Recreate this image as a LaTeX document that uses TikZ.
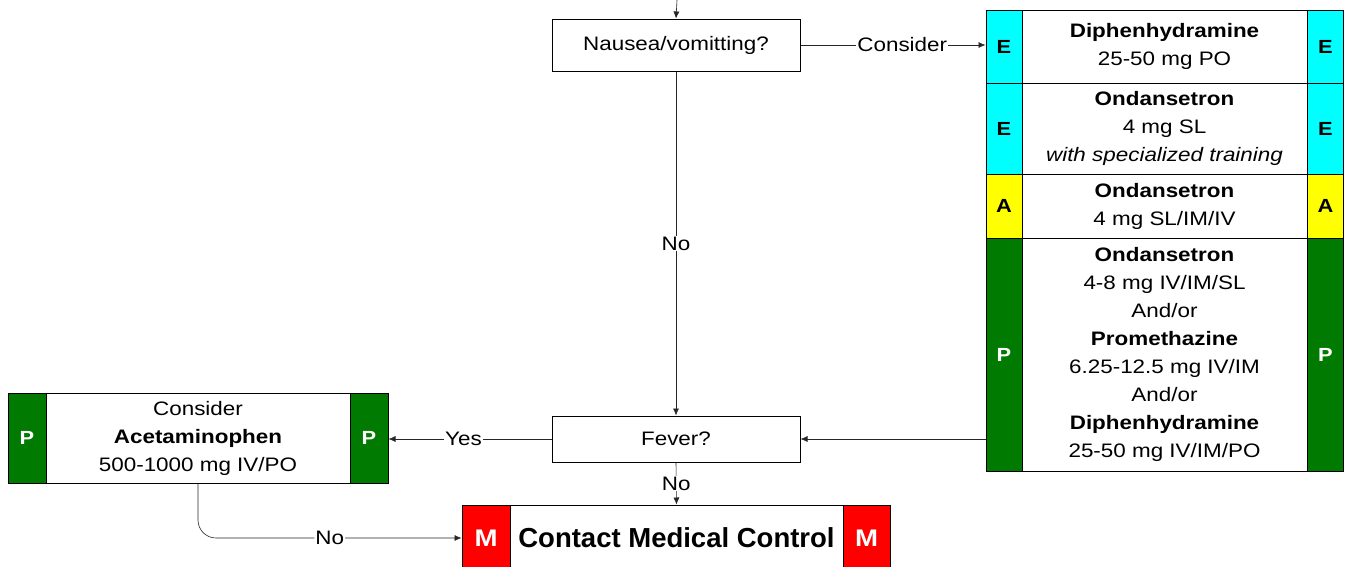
\documentclass[tikz,border=0pt]{standalone}
\usepackage{fontspec}
\setmainfont[FakeStretch=1.15]{Liberation Sans}
\newfontfamily\flatsans{Liberation Sans}
\usepackage{tikz}
\usetikzlibrary{arrows.meta}
\usetikzlibrary{positioning,calc}
\tikzset{>={Latex[length=7pt,width=6pt]}}
\definecolor{levelE}{RGB}{0,255,255}
\definecolor{levelA}{RGB}{255,255,0}
\definecolor{levelP}{RGB}{0,122,0}
\definecolor{levelM}{RGB}{255,0,0}
\tikzset{
  txt/.style={font=\fontsize{19.5}{28}\selectfont},
  question/.style={draw, line width=1pt, fill=white, txt, minimum width=248pt, inner sep=0pt},
  drug/.style={draw, line width=1pt, fill=white, txt, align=center, inner sep=0pt},
  strip/.style={draw, line width=1pt, inner sep=0pt, font=\fontsize{19}{22}\selectfont\bfseries},
  stripE/.style={strip, fill=levelE, text=black},
  stripA/.style={strip, fill=levelA, text=black},
  stripP/.style={strip, fill=levelP, text=white},
  stripM/.style={strip, fill=levelM, text=white, font=\fontsize{24}{26}\selectfont\bfseries},
  flow/.style={->, line width=0.6pt, draw=black!85},
  lbl/.style={fill=white, txt, inner sep=1pt}
}

\begin{document}
\begin{tikzpicture}[x=1pt,y=-1pt]
\useasboundingbox (0,0) rectangle (1345,566);
    %questions
    \coordinate (top) at (677,0);
    \node[question, minimum height=52pt] (nausea) at (676,45) {Nausea/vomitting?};
    \node[question, minimum height=46pt] (fever) at (676,439) {Fever?};
    %medication panel
    \node[drug, minimum width=285pt, minimum height=73pt] (diph) at (1164.5,46.5)
        {\textbf{Diphenhydramine}\\25-50 mg PO};
    \node[stripE, minimum width=36pt, minimum height=73pt] (e1l) at (1004,46.5) {E};
    \node[stripE, minimum width=36pt, minimum height=73pt] (e1r) at (1325.5,46.5) {E};
    \node[drug, minimum width=285pt, minimum height=91pt] (ondE) at (1164.5,128.5)
        {\textbf{Ondansetron}\\4 mg SL\\\textit{with specialized training}};
    \node[stripE, minimum width=36pt, minimum height=91pt] (e2l) at (1004,128.5) {E};
    \node[stripE, minimum width=36pt, minimum height=91pt] (e2r) at (1325.5,128.5) {E};
    \node[drug, minimum width=285pt, minimum height=64pt] (ondA) at (1164.5,206)
        {\textbf{Ondansetron}\\4 mg SL/IM/IV};
    \node[stripA, minimum width=36pt, minimum height=64pt] (a3l) at (1004,206) {A};
    \node[stripA, minimum width=36pt, minimum height=64pt] (a3r) at (1325.5,206) {A};
    \node[drug, minimum width=285pt, minimum height=233pt] (antiemP) at (1164.5,354.5)
        {\textbf{Ondansetron}\\4-8 mg IV/IM/SL\\And/or\\\textbf{Promethazine}\\6.25-12.5 mg IV/IM\\And/or\\\textbf{Diphenhydramine}\\25-50 mg IV/IM/PO};
    \node[stripP, minimum width=36pt, minimum height=233pt] (p4l) at (1004,354.5) {P};
    \node[stripP, minimum width=36pt, minimum height=233pt] (p4r) at (1325.5,354.5) {P};
    %acetaminophen
    \node[drug, minimum width=304pt, minimum height=90pt] (acet) at (198,438)
        {Consider\\\textbf{Acetaminophen}\\500-1000 mg IV/PO};
    \node[stripP, minimum width=38pt, minimum height=90pt] (acl) at (27,438) {P};
    \node[stripP, minimum width=38pt, minimum height=90pt] (acr) at (369,438) {P};
    %medical control
    \node[drug, minimum width=333pt, minimum height=66pt, font=\flatsans\fontsize{27.5}{30}\selectfont\bfseries] (contact) at (676.5,538)
        {Contact Medical Control};
    \node[stripM, minimum width=48pt, minimum height=66pt] (ml) at (486,538) {M};
    \node[stripM, minimum width=47pt, minimum height=66pt] (mr) at (866.5,538) {M};
    %arrows
    \draw[flow] (top) -- (nausea.north);
    \draw[flow] (nausea.east) -- node[lbl, pos=0.55] {Consider} (e1l.west |- nausea.east);
    \draw[flow] (nausea.south) -- node[lbl] {No} (fever.north);
    \draw[flow] (fever.east -| p4l.west) -- (fever.east);
    \draw[flow] (fever.west) -- node[lbl, pos=0.54] {Yes} (acr.east |- fever.west);
    \draw[flow] (fever.south) -- node[lbl] {No} (contact.north);
    \draw[flow, rounded corners=18pt] (acet.south) |- node[lbl, pos=0.75] {No} (ml.west);
\end{tikzpicture}
\end{document}
